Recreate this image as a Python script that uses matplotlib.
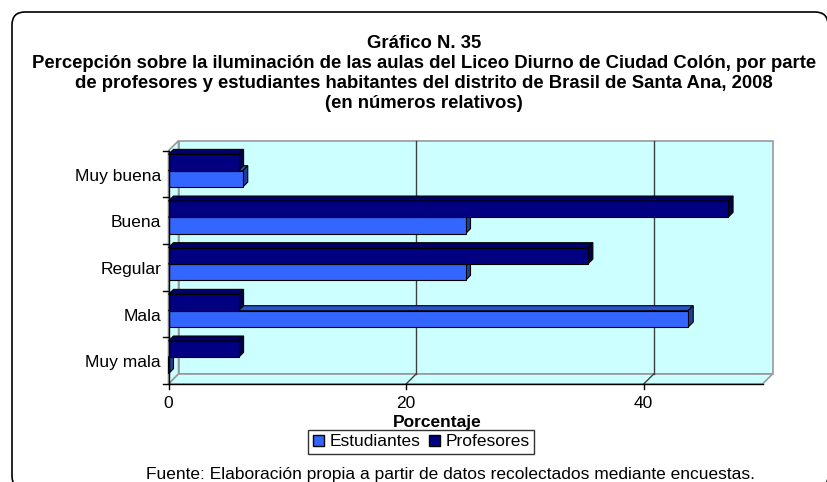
import matplotlib.pyplot as plt
from matplotlib.patches import Polygon, Rectangle, FancyBboxPatch, Patch

# datos del gráfico (porcentajes)
categorias = ["Muy mala", "Mala", "Regular", "Buena", "Muy buena"]
estudiantes = [0.0, 43.75, 25.0, 25.0, 6.25]
profesores = [5.9, 5.9, 35.3, 47.1, 5.9]
x_ticks = [0, 20, 40]
XMAX = 50

titulo = ["Gráfico N. 35",
          "Percepción sobre la iluminación de las aulas del Liceo Diurno de Ciudad Colón, por parte",
          "de profesores y estudiantes habitantes del distrito de Brasil de Santa Ana, 2008",
          "(en números relativos)"]
fuente = "Fuente: Elaboración propia a partir de datos recolectados mediante encuestas."

# colores estilo Excel (frente, arriba, lado)
c_est = ("#3366FF", "#2A52CC", "#1F3D99")
c_prof = ("#000080", "#000066", "#00004D")
c_wall = "#CCFFFF"

plt.rcParams['font.family'] = ['Liberation Sans', 'DejaVu Sans']

W, H = 827, 482
fig = plt.figure(figsize=(W / 100, H / 100), dpi=100)

# plano frontal del área de trazado (en píxeles)
x0_px, x1_px = 168.5, 762.5
ytop_px, ybot_px = 150.7, 384.0
ax = fig.add_axes([x0_px / W, 1 - ybot_px / H, (x1_px - x0_px) / W, (ybot_px - ytop_px) / H])
ax.set_xlim(0, XMAX)
ax.set_ylim(-0.5, len(categorias) - 0.5)
ax.axis('off')

sx = XMAX / (x1_px - x0_px)          # unidades de datos por píxel
sy = len(categorias) / (ybot_px - ytop_px)
ddx, ddy = 10 * sx, 10 * sy          # profundidad de las paredes
bdx, bdy = 5 * sx, 5 * sy            # profundidad de las barras
y_lo, y_hi = -0.5, len(categorias) - 0.5

# pared del fondo, pared izquierda y piso
ax.add_patch(Rectangle((ddx, y_lo + ddy), XMAX, y_hi - y_lo, facecolor=c_wall,
                       edgecolor="#999999", lw=1.2, clip_on=False, zorder=0))
ax.add_patch(Polygon([(0, y_lo), (ddx, y_lo + ddy), (ddx, y_hi + ddy), (0, y_hi)],
                     facecolor=c_wall, edgecolor="#999999", lw=1.2, clip_on=False, zorder=0))
ax.add_patch(Polygon([(0, y_lo), (XMAX, y_lo), (XMAX + ddx, y_lo + ddy), (ddx, y_lo + ddy)],
                     facecolor=c_wall, edgecolor="#999999", lw=1.2, clip_on=False, zorder=0))

# líneas de cuadrícula en el fondo y en el piso
for v in x_ticks[1:]:
    ax.plot([v + ddx, v + ddx], [y_lo + ddy, y_hi + ddy], color="#404040", lw=1, zorder=0.5, clip_on=False)
    ax.plot([v, v + ddx], [y_lo, y_lo + ddy], color="#404040", lw=1, zorder=0.5, clip_on=False)

# ejes
ax.plot([0, XMAX], [y_lo, y_lo], color="black", lw=1, zorder=6, clip_on=False)
ax.plot([0, 0], [y_lo, y_hi], color="black", lw=1, zorder=6, clip_on=False)
for v in x_ticks:
    ax.plot([v, v], [y_lo, y_lo - 5 * sy], color="black", lw=1, clip_on=False)
    ax.text(v, y_lo - 20 * sy, str(v), ha="center", va="center", fontsize=12.5)
for k in range(len(categorias) + 1):
    ax.plot([0, -6 * sx], [k - 0.5, k - 0.5], color="black", lw=1, clip_on=False)
for k, cat in enumerate(categorias):
    ax.text(-7.5 * sx, k - 2 * sy, cat, ha="right", va="center", fontsize=12.5)

h = 0.35
off = 0.071


def caras_3d(y0, valores, colores, z):
    # caras superior y lateral de cada barra
    for k, L in enumerate(valores):
        a = k + y0
        b = a + h
        ax.add_patch(Polygon([(0, b), (L, b), (L + bdx, b + bdy), (bdx, b + bdy)],
                             facecolor=colores[1], edgecolor="black", lw=0.8, zorder=z, clip_on=False))
        ax.add_patch(Polygon([(L, a), (L + bdx, a + bdy), (L + bdx, b + bdy), (L, b)],
                             facecolor=colores[2], edgecolor="black", lw=0.8, zorder=z, clip_on=False))


pos = range(len(categorias))
caras_3d(off - h, estudiantes, c_est, 2)
ax.barh([p + off - h for p in pos], estudiantes, height=h, align="edge",
        color=c_est[0], edgecolor="black", lw=0.8, zorder=3)
caras_3d(off, profesores, c_prof, 4)
ax.barh([p + off for p in pos], profesores, height=h, align="edge",
        color=c_prof[0], edgecolor="black", lw=0.8, zorder=5)

# textos
for texto, y in zip(titulo, [43, 63, 83, 104]):
    fig.text(424 / W, 1 - y / H, texto, ha="center", va="center", fontsize=13.3, fontweight="bold")
fig.text(437 / W, 1 - 422 / H, "Porcentaje", ha="center", va="center", fontsize=12.5, fontweight="bold")
fig.text(451 / W, 1 - 474 / H, fuente, ha="center", va="center", fontsize=12.5)

leg = fig.legend(handles=[Patch(facecolor=c_est[0], edgecolor="black", label="Estudiantes"),
                          Patch(facecolor=c_prof[0], edgecolor="black", label="Profesores")],
                 loc="center", bbox_to_anchor=(421 / W, 1 - 442 / H), ncol=2, frameon=True,
                 fancybox=False, edgecolor="black", fontsize=12.5, handlelength=0.65,
                 handleheight=0.65, handletextpad=0.3, columnspacing=0.5, borderpad=0.25,
                 borderaxespad=0)
leg.get_frame().set_linewidth(1)

# marco redondeado del gráfico
marco = FancyBboxPatch((0.12, -0.07), 8.16, 4.77, boxstyle="round,pad=0,rounding_size=0.13",
                       transform=fig.dpi_scale_trans, facecolor="none", edgecolor="black", lw=1.2)
fig.add_artist(marco)

fig.savefig("out.png", dpi=100)
